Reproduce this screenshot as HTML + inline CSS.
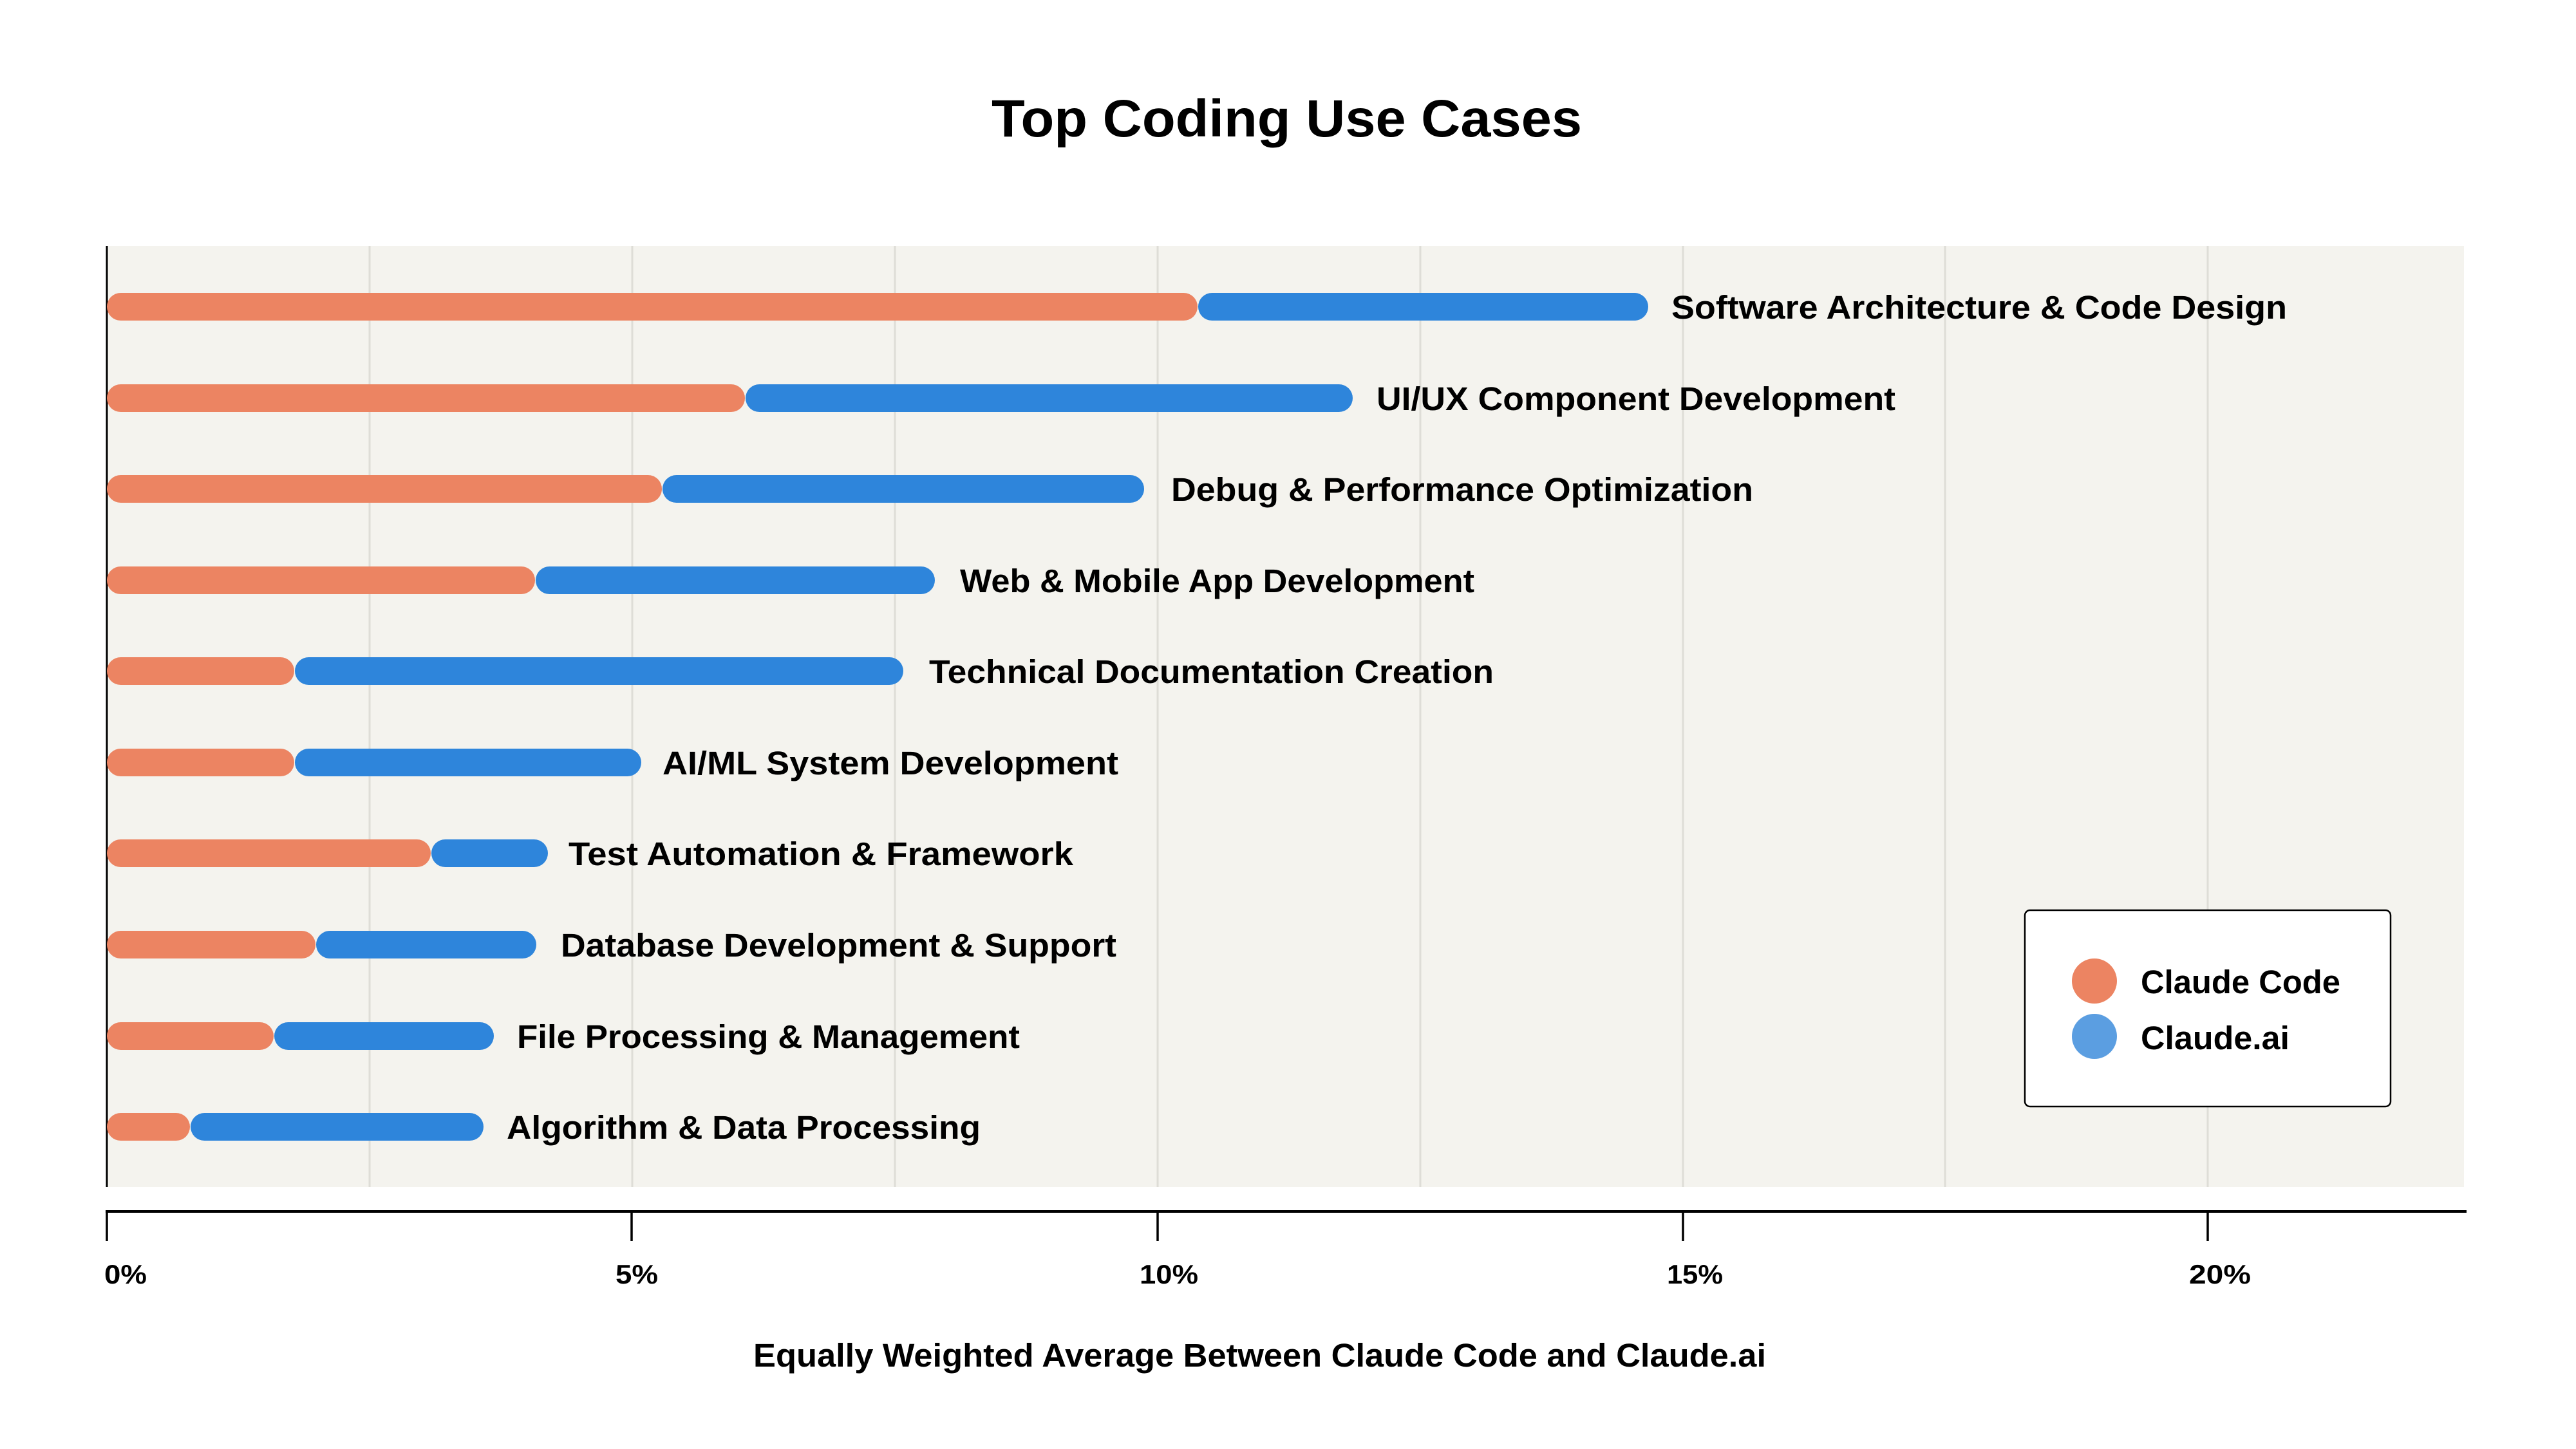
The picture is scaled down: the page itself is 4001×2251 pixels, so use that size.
<!DOCTYPE html>
<html>
<head>
<meta charset="utf-8">
<style>
  html, body { margin: 0; padding: 0; background: #ffffff; }
  svg { display: block; }
  text { font-family: "Liberation Sans", "DejaVu Sans", sans-serif; font-weight: bold; fill: #000; }
</style>
</head>
<body>
<svg width="4001" height="2251" viewBox="0 0 4001 2251" xmlns="http://www.w3.org/2000/svg">
  <rect x="0" y="0" width="4001" height="2251" fill="#ffffff"/>

  <!-- Title -->
  <text x="1540" y="212" font-size="82" textLength="917" lengthAdjust="spacingAndGlyphs">Top Coding Use Cases</text>

  <!-- Plot background -->
  <rect x="166" y="382" width="3661" height="1462" fill="#F4F3EE"/>

  <!-- Gridlines -->
  <g stroke="#DEDDD7" stroke-width="3">
    <line x1="574" y1="382" x2="574" y2="1844"/>
    <line x1="982" y1="382" x2="982" y2="1844"/>
    <line x1="1390" y1="382" x2="1390" y2="1844"/>
    <line x1="1798" y1="382" x2="1798" y2="1844"/>
    <line x1="2206" y1="382" x2="2206" y2="1844"/>
    <line x1="2614" y1="382" x2="2614" y2="1844"/>
    <line x1="3021" y1="382" x2="3021" y2="1844"/>
    <line x1="3429" y1="382" x2="3429" y2="1844"/>
  </g>

  <!-- Left axis line -->
  <line x1="166" y1="382" x2="166" y2="1844" stroke="#000" stroke-width="3"/>

  <!-- Bars -->
  <g>
    <!-- 1 -->
    <rect x="166" y="455" width="1694" height="43" rx="21.5" fill="#EC8462"/>
    <rect x="1861" y="455" width="699" height="43" rx="21.5" fill="#2E85DB"/>
    <!-- 2 -->
    <rect x="166" y="597" width="991" height="43" rx="21.5" fill="#EC8462"/>
    <rect x="1158" y="597" width="943" height="43" rx="21.5" fill="#2E85DB"/>
    <!-- 3 -->
    <rect x="166" y="738" width="862" height="43" rx="21.5" fill="#EC8462"/>
    <rect x="1029" y="738" width="748" height="43" rx="21.5" fill="#2E85DB"/>
    <!-- 4 -->
    <rect x="166" y="880" width="665" height="43" rx="21.5" fill="#EC8462"/>
    <rect x="832" y="880" width="620" height="43" rx="21.5" fill="#2E85DB"/>
    <!-- 5 -->
    <rect x="166" y="1021" width="291" height="43" rx="21.5" fill="#EC8462"/>
    <rect x="458" y="1021" width="945" height="43" rx="21.5" fill="#2E85DB"/>
    <!-- 6 -->
    <rect x="166" y="1163" width="291" height="43" rx="21.5" fill="#EC8462"/>
    <rect x="458" y="1163" width="538" height="43" rx="21.5" fill="#2E85DB"/>
    <!-- 7 -->
    <rect x="166" y="1304" width="503" height="43" rx="21.5" fill="#EC8462"/>
    <rect x="670" y="1304" width="181" height="43" rx="21.5" fill="#2E85DB"/>
    <!-- 8 -->
    <rect x="166" y="1446" width="324" height="43" rx="21.5" fill="#EC8462"/>
    <rect x="491" y="1446" width="342" height="43" rx="21.5" fill="#2E85DB"/>
    <!-- 9 -->
    <rect x="166" y="1588" width="259" height="43" rx="21.5" fill="#EC8462"/>
    <rect x="426" y="1588" width="341" height="43" rx="21.5" fill="#2E85DB"/>
    <!-- 10 -->
    <rect x="166" y="1729" width="129" height="43" rx="21.5" fill="#EC8462"/>
    <rect x="296" y="1729" width="455" height="43" rx="21.5" fill="#2E85DB"/>
  </g>

  <!-- Bar labels -->
  <g font-size="51">
    <text x="2596" y="495" textLength="956" lengthAdjust="spacingAndGlyphs">Software Architecture &amp; Code Design</text>
    <text x="2138" y="637" textLength="806" lengthAdjust="spacingAndGlyphs">UI/UX Component Development</text>
    <text x="1819" y="778" textLength="904" lengthAdjust="spacingAndGlyphs">Debug &amp; Performance Optimization</text>
    <text x="1491" y="920" textLength="799" lengthAdjust="spacingAndGlyphs">Web &amp; Mobile App Development</text>
    <text x="1443" y="1061" textLength="877" lengthAdjust="spacingAndGlyphs">Technical Documentation Creation</text>
    <text x="1029" y="1203" textLength="708" lengthAdjust="spacingAndGlyphs">AI/ML System Development</text>
    <text x="883" y="1344" textLength="784" lengthAdjust="spacingAndGlyphs">Test Automation &amp; Framework</text>
    <text x="871" y="1486" textLength="863" lengthAdjust="spacingAndGlyphs">Database Development &amp; Support</text>
    <text x="803" y="1628" textLength="781" lengthAdjust="spacingAndGlyphs">File Processing &amp; Management</text>
    <text x="787" y="1769" textLength="736" lengthAdjust="spacingAndGlyphs">Algorithm &amp; Data Processing</text>
  </g>

  <!-- Legend -->
  <rect x="3145" y="1414" width="568" height="305" rx="8" ry="8" fill="#ffffff" stroke="#000" stroke-width="2.5"/>
  <circle cx="3253" cy="1524" r="35" fill="#EC8462"/>
  <circle cx="3253" cy="1610" r="35" fill="#5B9EE1"/>
  <text x="3325" y="1543" font-size="51" textLength="310" lengthAdjust="spacingAndGlyphs">Claude Code</text>
  <text x="3325" y="1630" font-size="51" textLength="231" lengthAdjust="spacingAndGlyphs">Claude.ai</text>

  <!-- Bottom axis -->
  <line x1="164" y1="1882" x2="3831" y2="1882" stroke="#000" stroke-width="4"/>
  <g stroke="#000" stroke-width="3.5">
    <line x1="166" y1="1882" x2="166" y2="1928"/>
    <line x1="981" y1="1882" x2="981" y2="1928"/>
    <line x1="1798" y1="1882" x2="1798" y2="1928"/>
    <line x1="2614" y1="1882" x2="2614" y2="1928"/>
    <line x1="3429" y1="1882" x2="3429" y2="1928"/>
  </g>

  <!-- Tick labels -->
  <g font-size="42">
    <text x="162" y="1994" textLength="66" lengthAdjust="spacingAndGlyphs">0%</text>
    <text x="956" y="1994" textLength="66" lengthAdjust="spacingAndGlyphs">5%</text>
    <text x="1770" y="1994" textLength="91" lengthAdjust="spacingAndGlyphs">10%</text>
    <text x="2589" y="1994" textLength="87" lengthAdjust="spacingAndGlyphs">15%</text>
    <text x="3400" y="1994" textLength="96" lengthAdjust="spacingAndGlyphs">20%</text>
  </g>

  <!-- X axis label -->
  <text x="1170" y="2123" font-size="51" textLength="1573" lengthAdjust="spacingAndGlyphs">Equally Weighted Average Between Claude Code and Claude.ai</text>
</svg>
</body>
</html>
